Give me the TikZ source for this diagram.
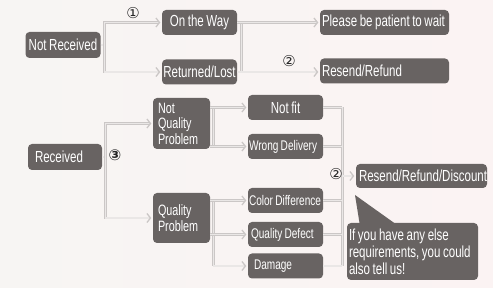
\documentclass[tikz,border=0pt]{standalone}
\usepackage{fontspec}
\setmainfont{Liberation Sans}[FakeStretch=0.72, WordSpace=0.8]
\newfontfamily\circfont{DejaVu Sans}
\usetikzlibrary{arrows.meta, positioning}
\definecolor{boxgray}{HTML}{686362}
\definecolor{linegray}{HTML}{CBC7C6}
\definecolor{lineinner}{HTML}{EAE7E6}
\definecolor{bgleft}{HTML}{F7F5F3}
\definecolor{bgright}{HTML}{FBF3F3}
\tikzset{
  box/.style={rectangle, rounded corners=4pt, fill=boxgray, text=white, inner sep=0pt,
              minimum height=25pt, font=\fontsize{16}{16}\selectfont},
  lbox/.style={box, align=flush left, inner xsep=5pt},
  smallbox/.style={font=\fontsize{14}{14}\selectfont},
  num/.style={font=\circfont\fontsize{15}{15}\selectfont, text=black!85},
  link/.style={draw=linegray, double=lineinner, double distance=1.4pt, line width=0.7pt},
  arrowline/.style={link, -{Straight Barb[length=3.5pt, width=9pt, line width=1.3pt]}, shorten >=1.5pt},
}

\begin{document}
\begin{tikzpicture}[x=1pt, y=-1pt]
\shade[left color=bgleft, middle color=white, right color=bgright] (0,0) rectangle (493,288);
\useasboundingbox (0,0) rectangle (493,288);

% not received
\node[box, minimum width=75pt, minimum height=26pt] (nr) at (63,45) {Not Received};
\node[box, minimum width=75pt] (otw) at (199.5,22.5) {On the Way};
\node[box, minimum width=75pt] (rl) at (199.5,72) {Returned/Lost};
\node[lbox, text width=125pt, inner xsep=2pt] (pbp) at (384.5,22.5) {\mbox{Please be patient to wait}};
\node[lbox, text width=125pt, inner xsep=2pt] (rr) at (384.5,71) {\mbox{Resend/Refund}};

% received
\node[lbox, text width=60pt, inner xsep=7pt, minimum height=26pt] (rec) at (65,157) {Received};
\node[lbox, text width=47pt, minimum height=51pt, font=\fontsize{15}{15.5}\selectfont] (nqp) at (181.5,123.5) {Not\\Quality\\Problem};
\node[lbox, text width=47pt, minimum height=50pt, font=\fontsize{15}{15.5}\selectfont] (qp) at (181.5,218) {Quality\\Problem};
\node[box, minimum width=75pt] (nf) at (285.5,107.5) {Not fit};
\node[lbox, smallbox, text width=73pt, inner xsep=1pt] (wd) at (285.5,146.5) {\mbox{Wrong Delivery}};
\node[lbox, smallbox, text width=73pt, inner xsep=1pt] (cd) at (285.5,200.5) {\mbox{Color Difference}};
\node[lbox, smallbox, text width=69pt, inner xsep=3pt] (qd) at (285.5,234.5) {\mbox{Quality Defect}};
\node[lbox, smallbox, text width=63pt, inner xsep=6pt] (dm) at (285.5,266) {Damage};
\node[lbox, text width=125pt, inner xsep=3pt, minimum height=24pt] (rrd) at (421.5,176) {\mbox{Resend/Refund/Discount}};
\node[lbox, text width=127pt, inner xsep=2pt, minimum height=57pt, font=\fontsize{16}{17}\selectfont] (note) at (412.5,251.5) {\mbox{If you have any else}\\\mbox{requirements, you could}\\\mbox{also tell us!}};
\coordinate (notetip) at (355,195);
\fill[boxgray] ([xshift=13pt, yshift=-2pt]note.north west) -- (notetip) -- ([xshift=50pt, yshift=-2pt]note.north west) -- cycle;

% top connectors
\coordinate (njoin) at ([xshift=4pt]nr.east);
\draw[link] (nr.east) -- (njoin);
\draw[arrowline] (njoin) |- (otw.west);
\draw[arrowline] (njoin) |- (rl.west);
\draw[link] ([xshift=4pt]otw.east) -- ([xshift=4pt]rl.east);
\draw[arrowline] (otw.east) -- (otw.east -| pbp.west);
\draw[arrowline] (rl.east) -- (rl.east -| rr.west);

% bottom connectors
\coordinate (rjoin) at ([xshift=3pt]rec.east);
\draw[link] (rec.east) -- (rjoin);
\draw[arrowline] (rjoin) |- (nqp.west);
\draw[arrowline] (rjoin) |- (qp.west);
\draw[link] ([xshift=3pt]nqp.east |- nf.west) -- ([xshift=3pt]nqp.east |- wd.west);
\draw[arrowline] (nqp.east |- nf.west) -- (nf.west);
\draw[arrowline] (nqp.east |- wd.west) -- (wd.west);
\draw[link] ([xshift=3pt]qp.east |- cd.west) -- ([xshift=3pt]qp.east |- dm.west);
\draw[arrowline] (qp.east |- cd.west) -- (cd.west);
\draw[arrowline] (qp.east |- qd.west) -- (qd.west);
\draw[arrowline] ([xshift=3pt]qp.east |- dm.west) -- (dm.west);

% merge to resend
\coordinate (mjoin) at ([xshift=19pt]nf.east);
\draw[link] (mjoin) -- (mjoin |- dm.east);
\foreach \b in {nf, wd, cd, qd, dm}
  \draw[link] (\b.east) -- (mjoin |- \b.east);
\draw[arrowline] (mjoin |- rrd.west) -- (rrd.west);

% step numbers
\node[num] (n1) at (133,13) {①};
\node[num] (n2) at (289,61) {②};
\node[num, font=\circfont\bfseries\fontsize{15}{15}\selectfont] (n3) at (115,155) {③};
\node[num] (n4) at (336,174) {②};
\end{tikzpicture}
\end{document}
